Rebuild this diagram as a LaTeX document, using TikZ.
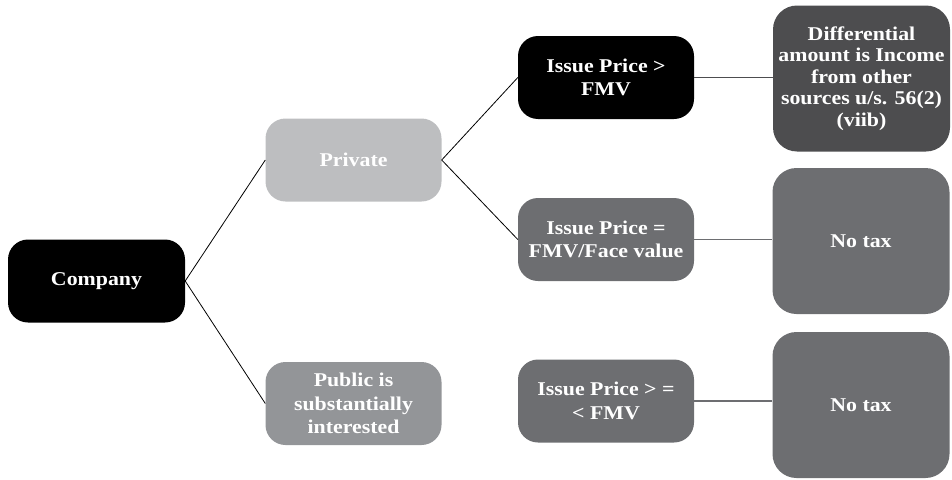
\documentclass[tikz,border=0pt]{standalone}
\usepackage{fontspec}
\setmainfont{Liberation Serif}
\newfontfamily\boxfont[FakeStretch=1.12]{Liberation Serif}
\definecolor{cBlack}{HTML}{000000}
\definecolor{cLight}{HTML}{BDBEC0}
\definecolor{cMid}{HTML}{939598}
\definecolor{cGray}{HTML}{6D6E71}
\definecolor{cDark}{HTML}{4D4D4F}
\tikzset{
  boxbase/.style={rounded corners=20pt, inner sep=0pt, align=center, text=white,
    font=\boxfont\fontsize{19.5}{23.5}\selectfont\bfseries},
  smallbox/.style={boxbase, minimum width=176pt, minimum height=83pt},
  bigbox/.style={boxbase, rounded corners=24pt, minimum width=177pt, minimum height=146pt,
    font=\boxfont\fontsize{19.5}{21.5}\selectfont\bfseries},
  conn/.style={line width=0.8pt, draw=black},
  gconn/.style={line width=1.2pt, draw=cGray},
}
\begin{document}
\begin{tikzpicture}[x=1pt,y=-1pt]
\useasboundingbox (0,0) rectangle (952,479);
\node[smallbox, fill=cBlack, minimum width=177pt] (company) at (96.5,281) {Company};
\node[smallbox, fill=cLight] (private) at (353.5,160) {Private};
\node[smallbox, fill=cMid] (public) at (353.5,403.5) {Public is\\substantially\\interested};
\node[smallbox, fill=cBlack] (ipgt) at (606,77.5) {Issue Price >\\FMV};
\node[smallbox, fill=cGray] (ipeq) at (606,239.5) {Issue Price =\\FMV/Face value};
\node[smallbox, fill=cGray] (ipall) at (606,401) {Issue Price > =\\< FMV};
\node[bigbox, fill=cDark] (diff) at (861.5,78.5) {Differential\\amount is Income\\from other\\sources u/s. 56(2)\\(viib)};
\node[bigbox, fill=cGray] (notax1) at (861,241) {No tax};
\node[bigbox, fill=cGray] (notax2) at (861,405) {No tax};
\draw[conn] (company.east) -- (private.west);
\draw[conn] (company.east) -- (public.west);
\draw[conn] (private.east) -- (ipgt.west);
\draw[conn] (private.east) -- (ipeq.west);
\draw[gconn, draw=cDark] (ipgt.east) -- (ipgt.east -| diff.west);
\draw[gconn] (ipeq.east) -- (ipeq.east -| notax1.west);
\draw[gconn] (ipall.east) -- (ipall.east -| notax2.west);
\end{tikzpicture}
\end{document}
